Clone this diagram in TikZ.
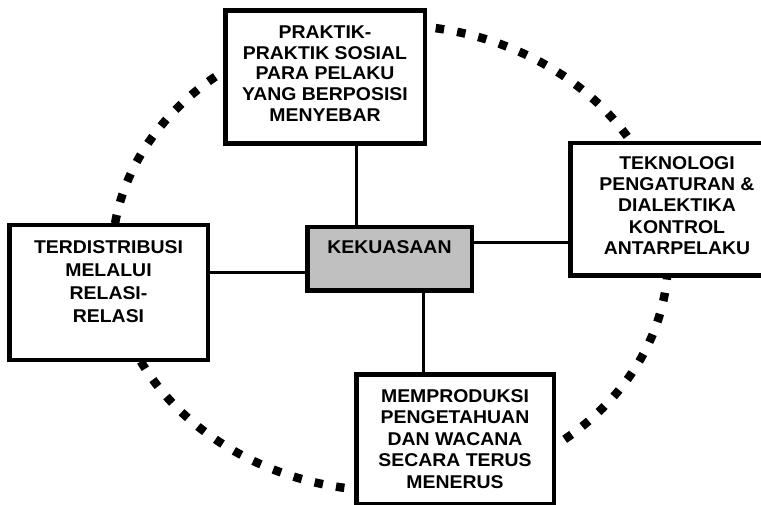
\documentclass[tikz,border=0pt]{standalone}
\usepackage{fontspec}
\setmainfont{Liberation Sans}[FakeStretch=1.05]
\definecolor{abu}{HTML}{C0C0C0}
\newcommand\hurufkotak[1]{\bfseries\fontsize{18.5}{#1}\selectfont}

\begin{document}
\begin{tikzpicture}[x=1pt,y=-1pt,
    kotak/.style={draw,line width=4.5pt,fill=white,align=center,inner sep=0pt,
        font=\hurufkotak{20.8},text depth=7pt},
    garis/.style={line width=3pt}]
    \useasboundingbox (0,0) rectangle (761,505);
    \clip (0,0) rectangle (761,505);

    % Lingkaran titik-titik
    \draw[line width=8.5pt,dash pattern=on 8.5pt off 13.24pt]
        (390,258) ellipse [x radius=278pt, y radius=233pt];

    % Kotak
    \node[kotak,minimum width=199.5pt,minimum height=133pt] (praktik) at (325,77)
        {PRAKTIK-\\PRAKTIK SOSIAL\\PARA PELAKU\\YANG BERPOSISI\\MENYEBAR};
    \node[kotak,fill=abu,minimum width=164.5pt,minimum height=63.5pt,text height=13pt,text depth=23pt] (kuasa) at (389.5,259)
        {KEKUASAAN};
    \node[kotak,font=\hurufkotak{21.3},minimum width=213pt,minimum height=132.5pt,text depth=8pt] (teknologi) at (677,209.5)
        {TEKNOLOGI\\PENGATURAN \&\\DIALEKTIKA\\KONTROL\\ANTARPELAKU};
    \node[kotak,font=\hurufkotak{23},minimum width=198.5pt,minimum height=134.5pt,text depth=22pt] (terdistribusi) at (108.5,292.5)
        {TERDISTRIBUSI\\MELALUI\\RELASI-\\RELASI};
    \node[kotak,font=\hurufkotak{21.5},minimum width=197.5pt,minimum height=129.5pt,text depth=0pt] (memproduksi) at (455,439)
        {MEMPRODUKSI\\PENGETAHUAN\\DAN WACANA\\SECARA TERUS\\MENERUS};

    % Garis penghubung
    \draw[garis] (praktik.south -| 356,0) -- (kuasa.north -| 356,0);
    \draw[garis] (kuasa.east |- 0,243) -- (teknologi.west |- 0,243);
    \draw[garis] (terdistribusi.east |- 0,273) -- (kuasa.west |- 0,273);
    \draw[garis] (kuasa.south -| 423,0) -- (memproduksi.north -| 423,0);
\end{tikzpicture}
\end{document}
